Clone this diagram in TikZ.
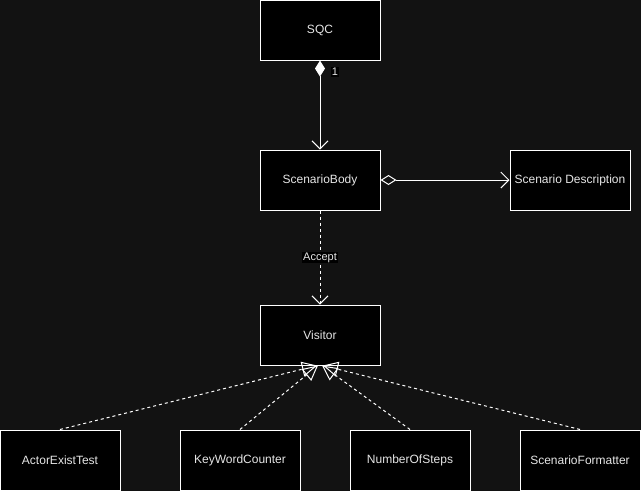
\documentclass[tikz,border=0pt]{standalone}
\usepackage{fontspec}
\setmainfont{Liberation Sans}
\usetikzlibrary{arrows.meta}
\definecolor{canvas}{RGB}{18,18,18}
\definecolor{ink}{RGB}{230,230,230}
\begin{document}
\begin{tikzpicture}[x=1pt,y=-1pt,
  box/.style={draw=white,fill=black,line width=1pt,minimum width=120pt,minimum height=60pt,
    inner sep=0pt,text=ink,font=\fontsize{12}{14}\selectfont},
  link/.style={draw=white,line width=1pt},
  lbl/.style={fill=black,text=ink,inner sep=1pt,font=\fontsize{11}{13}\selectfont},
  barb/.style={-{Straight Barb[length=8pt,width=16pt,line width=1pt]}},
  realize/.style={draw=white,line width=1pt,dash pattern=on 3pt off 3pt,
    -{Triangle[open,length=15pt,width=15pt,line width=1pt]}}]
  % canvas
  \fill[canvas] (0,0) rectangle (641,491);
  \useasboundingbox (0,0) rectangle (641,491);
  % classes
  \node[box] (sqc)  at (320,30)  {SQC};
  \node[box] (body) at (320,180) {ScenarioBody};
  \node[box] (desc) at (570,180) {Scenario Description};
  \node[box] (vis)  at (320,335) {Visitor};
  \node[box] (aet)  at (60,460)  {ActorExistTest};
  \node[box] (kwc)  at (240,460) {KeyWordCounter};
  \node[box] (nos)  at (410,460) {NumberOfSteps};
  \node[box] (sfm)  at (580,460) {ScenarioFormatter};
  % composition SQC -> ScenarioBody
  \draw[link,{Diamond[length=16pt,width=10pt,fill=white,line width=1pt]}-{Straight Barb[length=8pt,width=16pt,line width=1pt]}]
    (sqc.south) -- (body.north);
  \node[lbl] (one) at (335,72) {1};
  % aggregation ScenarioBody -> Scenario Description
  \draw[link,{Diamond[open,length=16pt,width=10pt,line width=1pt]}-{Straight Barb[length=8pt,width=16pt,line width=1pt]}]
    (body.east) -- (desc.west);
  % dependency ScenarioBody -> Visitor
  \draw[link,dash pattern=on 3pt off 3pt,barb] (body.south) -- (vis.north)
    node[lbl,pos=0.5] (accept) {Accept};
  % visitors realizing the interface
  \draw[realize] (aet.north) -- ([xshift=-3pt]vis.south);
  \draw[realize] (kwc.north) -- ([xshift=-2pt]vis.south);
  \draw[realize] (nos.north) -- ([xshift=2pt]vis.south);
  \draw[realize] (sfm.north) -- ([xshift=3pt]vis.south);
\end{tikzpicture}
\end{document}
